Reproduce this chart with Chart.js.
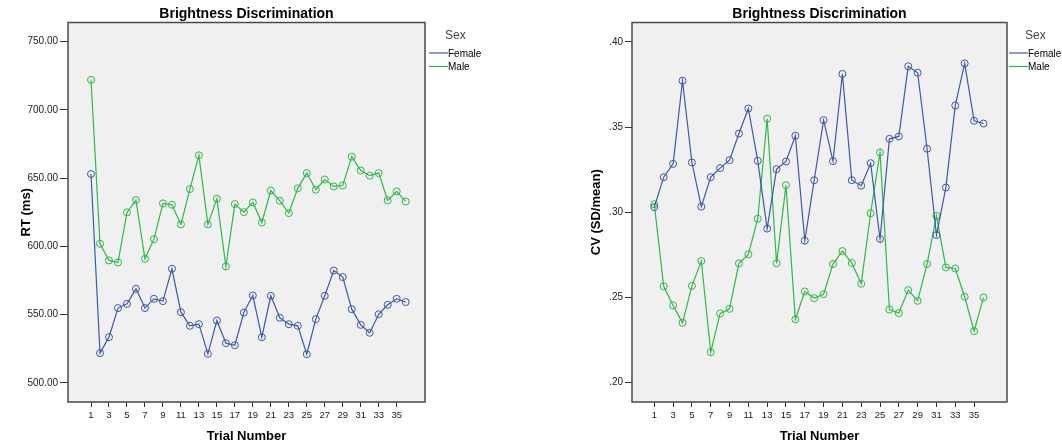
<!DOCTYPE html>
<html>
<head>
<meta charset="utf-8">
<script src="https://cdn.jsdelivr.net/npm/chart.js@4/dist/chart.umd.min.js"></script>
<style>
  html, body { margin: 0; padding: 0; background: #fff; }
  body { width: 1062px; height: 448px; position: relative; overflow: hidden; }
  canvas { position: absolute; top: 0; }
  #rtChart { left: 0; }
  #cvChart { left: 560px; }
</style>
</head>
<body>
<canvas id="rtChart" width="530" height="448"></canvas>
<canvas id="cvChart" width="502" height="448"></canvas>
<script>
// trial numbers
const trials = [1, 2, 3, 4, 5, 6, 7, 8, 9, 10, 11, 12, 13, 14, 15, 16, 17, 18,
  19, 20, 21, 22, 23, 24, 25, 26, 27, 28, 29, 30, 31, 32, 33, 34, 35, 36];
const xTicks = [1, 3, 5, 7, 9, 11, 13, 15, 17, 19, 21, 23, 25, 27, 29, 31, 33, 35];

// RT (ms)
const rtFemale = [653, 521.8, 533.5, 554.8, 557.9, 568.9, 554.8, 561.6, 559.9, 583.6, 551.8, 541.8,
  543, 521.3, 545.7, 529.1, 527.6, 551.5, 564, 533.5, 563.8, 547.7, 543, 541.8,
  521, 546.7, 563.8, 582.3, 577.5, 554, 542.5, 536.7, 550.3, 557.2, 561.6, 559.2];
const rtMale = [722, 601.9, 589.7, 588.2, 624.9, 633.9, 590.9, 605.3, 631.5, 630.5, 616.1, 642,
  666.7, 616.1, 634.9, 585.3, 631, 625.1, 632.2, 617.5, 640.9, 633.4, 624.4, 642.5,
  653.7, 641.5, 649, 643.9, 644.6, 665.7, 655.6, 651.8, 653.7, 633.7, 640.3, 632.9];
const rtTicks = [500, 550, 600, 650, 700, 750];

// CV (SD/mean)
const cvFemale = [.303, .3206, .3284, .3772, .3292, .3033, .3206, .3259, .3306, .3462, .3609, .3302,
  .2904, .3253, .3298, .3449, .2833, .3188, .3541, .3300, .3812, .3188, .3156, .3288,
  .2843, .3431, .3445, .3857, .3819, .3373, .2866, .3145, .3627, .3874, .3537, .3521];
const cvMale = [.3047, .2565, .2453, .2351, .2568, .2714, .2178, .2406, .2433, .2700, .2753, .2962,
  .3549, .2700, .3159, .2371, .2535, .2496, .2519, .2696, .2772, .2702, .2580, .2994,
  .3351, .2429, .2408, .2543, .2480, .2696, .2979, .2676, .2670, .2504, .2302, .2500];
const cvTicks = [.20, .25, .30, .35, .40];

const FONT = "'Liberation Sans', Arial, sans-serif";
const FEMALE_COLOR = '#3e58ac';
const MALE_COLOR = '#2eb848';

// plot background, frame, title and the "Sex" legend
const frame = {
  id: 'frame',
  beforeDatasetsDraw(chart) {
    const {ctx, chartArea: a} = chart;
    ctx.save();
    ctx.fillStyle = '#f0f0f0';
    ctx.fillRect(a.left, a.top, a.right - a.left, a.bottom - a.top);
    ctx.restore();
  },
  afterDraw(chart, args, opts) {
    const {ctx, chartArea: a} = chart;
    ctx.save();
    ctx.strokeStyle = '#4a4a4a';
    ctx.lineWidth = 1.5;
    ctx.strokeRect(a.left, a.top, a.right - a.left, a.bottom - a.top);

    ctx.fillStyle = '#000';
    ctx.font = 'bold 14px ' + FONT;
    ctx.textAlign = 'center';
    ctx.textBaseline = 'alphabetic';
    ctx.fillText(opts.title, (a.left + a.right) / 2, 17.5);

    const lx = a.right + opts.legendGap;
    ctx.textAlign = 'left';
    ctx.fillStyle = '#444';
    ctx.font = '12px ' + FONT;
    ctx.fillText('Sex', lx + 16, 39);
    ctx.font = '10px ' + FONT;
    ctx.fillStyle = '#000';
    chart.data.datasets.forEach((ds, i) => {
      const y = 53 + i * 13.5;
      ctx.strokeStyle = ds.borderColor;
      ctx.lineWidth = 1.2;
      ctx.beginPath();
      ctx.moveTo(lx, y);
      ctx.lineTo(lx + 19, y);
      ctx.stroke();
      ctx.fillText(ds.label, lx + 19, y + 3.5);
    });
    ctx.restore();
  }
};

function series(label, values, color) {
  return {
    label: label,
    data: values.map((v, i) => ({x: trials[i], y: v})),
    borderColor: color,
    backgroundColor: 'transparent',
    borderWidth: 1.2,
    tension: 0,
    pointRadius: 3.5,
    pointBorderWidth: 1,
    pointBorderColor: color,
    pointBackgroundColor: 'transparent'
  };
}

function makeChart(id, s) {
  new Chart(document.getElementById(id), {
    type: 'line',
    data: {
      datasets: [
        series('Female', s.female, FEMALE_COLOR),
        series('Male', s.male, MALE_COLOR)
      ]
    },
    options: {
      responsive: false,
      animation: false,
      devicePixelRatio: 1,
      layout: { padding: { left: 0, right: s.padRight, top: 22.5, bottom: 0 } },
      plugins: {
        legend: { display: false },
        tooltip: { enabled: false },
        frame: { title: 'Brightness Discrimination', legendGap: s.legendGap }
      },
      scales: {
        x: {
          type: 'linear',
          min: s.xMin,
          max: s.xMax,
          afterBuildTicks: (scale) => { scale.ticks = xTicks.map(v => ({value: v})); },
          afterFit: (scale) => { scale.height = 46; },
          grid: { drawOnChartArea: false, tickLength: 5, color: '#333' },
          border: { display: false },
          ticks: { font: { family: FONT, size: 9.5 }, color: '#222', padding: 3, maxRotation: 0, autoSkip: false },
          title: {
            display: true,
            text: 'Trial Number',
            font: { family: FONT, size: 13, weight: 'bold' },
            color: '#000',
            padding: { top: 0, bottom: 4 }
          }
        },
        y: {
          min: s.yMin,
          max: s.yMax,
          afterBuildTicks: (scale) => { scale.ticks = s.yTicks.map(v => ({value: v})); },
          afterFit: (scale) => { scale.width = s.yWidth; },
          grid: { drawOnChartArea: false, tickLength: s.tickLen, color: '#333' },
          border: { display: false },
          ticks: { font: { family: FONT, size: 10 }, color: '#222', padding: 2, callback: s.fmt },
          title: {
            display: true,
            text: s.yTitle,
            font: { family: FONT, size: 13, weight: 'bold' },
            color: '#000',
            padding: { top: s.titlePad, bottom: 0 }
          }
        }
      }
    },
    plugins: [frame]
  });
}

makeChart('rtChart', {
  female: rtFemale, male: rtMale, yTicks: rtTicks,
  yMin: 486, yMax: 764, xMin: -1.56, xMax: 38.15,
  yWidth: 68, padRight: 105, tickLen: 8, titlePad: 19, legendGap: 4,
  yTitle: 'RT (ms)',
  fmt: (v) => v.toFixed(2)
});

makeChart('cvChart', {
  female: cvFemale, male: cvMale, yTicks: cvTicks,
  yMin: .1886, yMax: .4114, xMin: -1.37, xMax: 38.5,
  yWidth: 72, padRight: 55, tickLen: 7, titlePad: 28.5, legendGap: 2,
  yTitle: 'CV (SD/mean)',
  fmt: (v) => v.toFixed(2).replace(/^0/, '')
});
</script>
</body>
</html>
